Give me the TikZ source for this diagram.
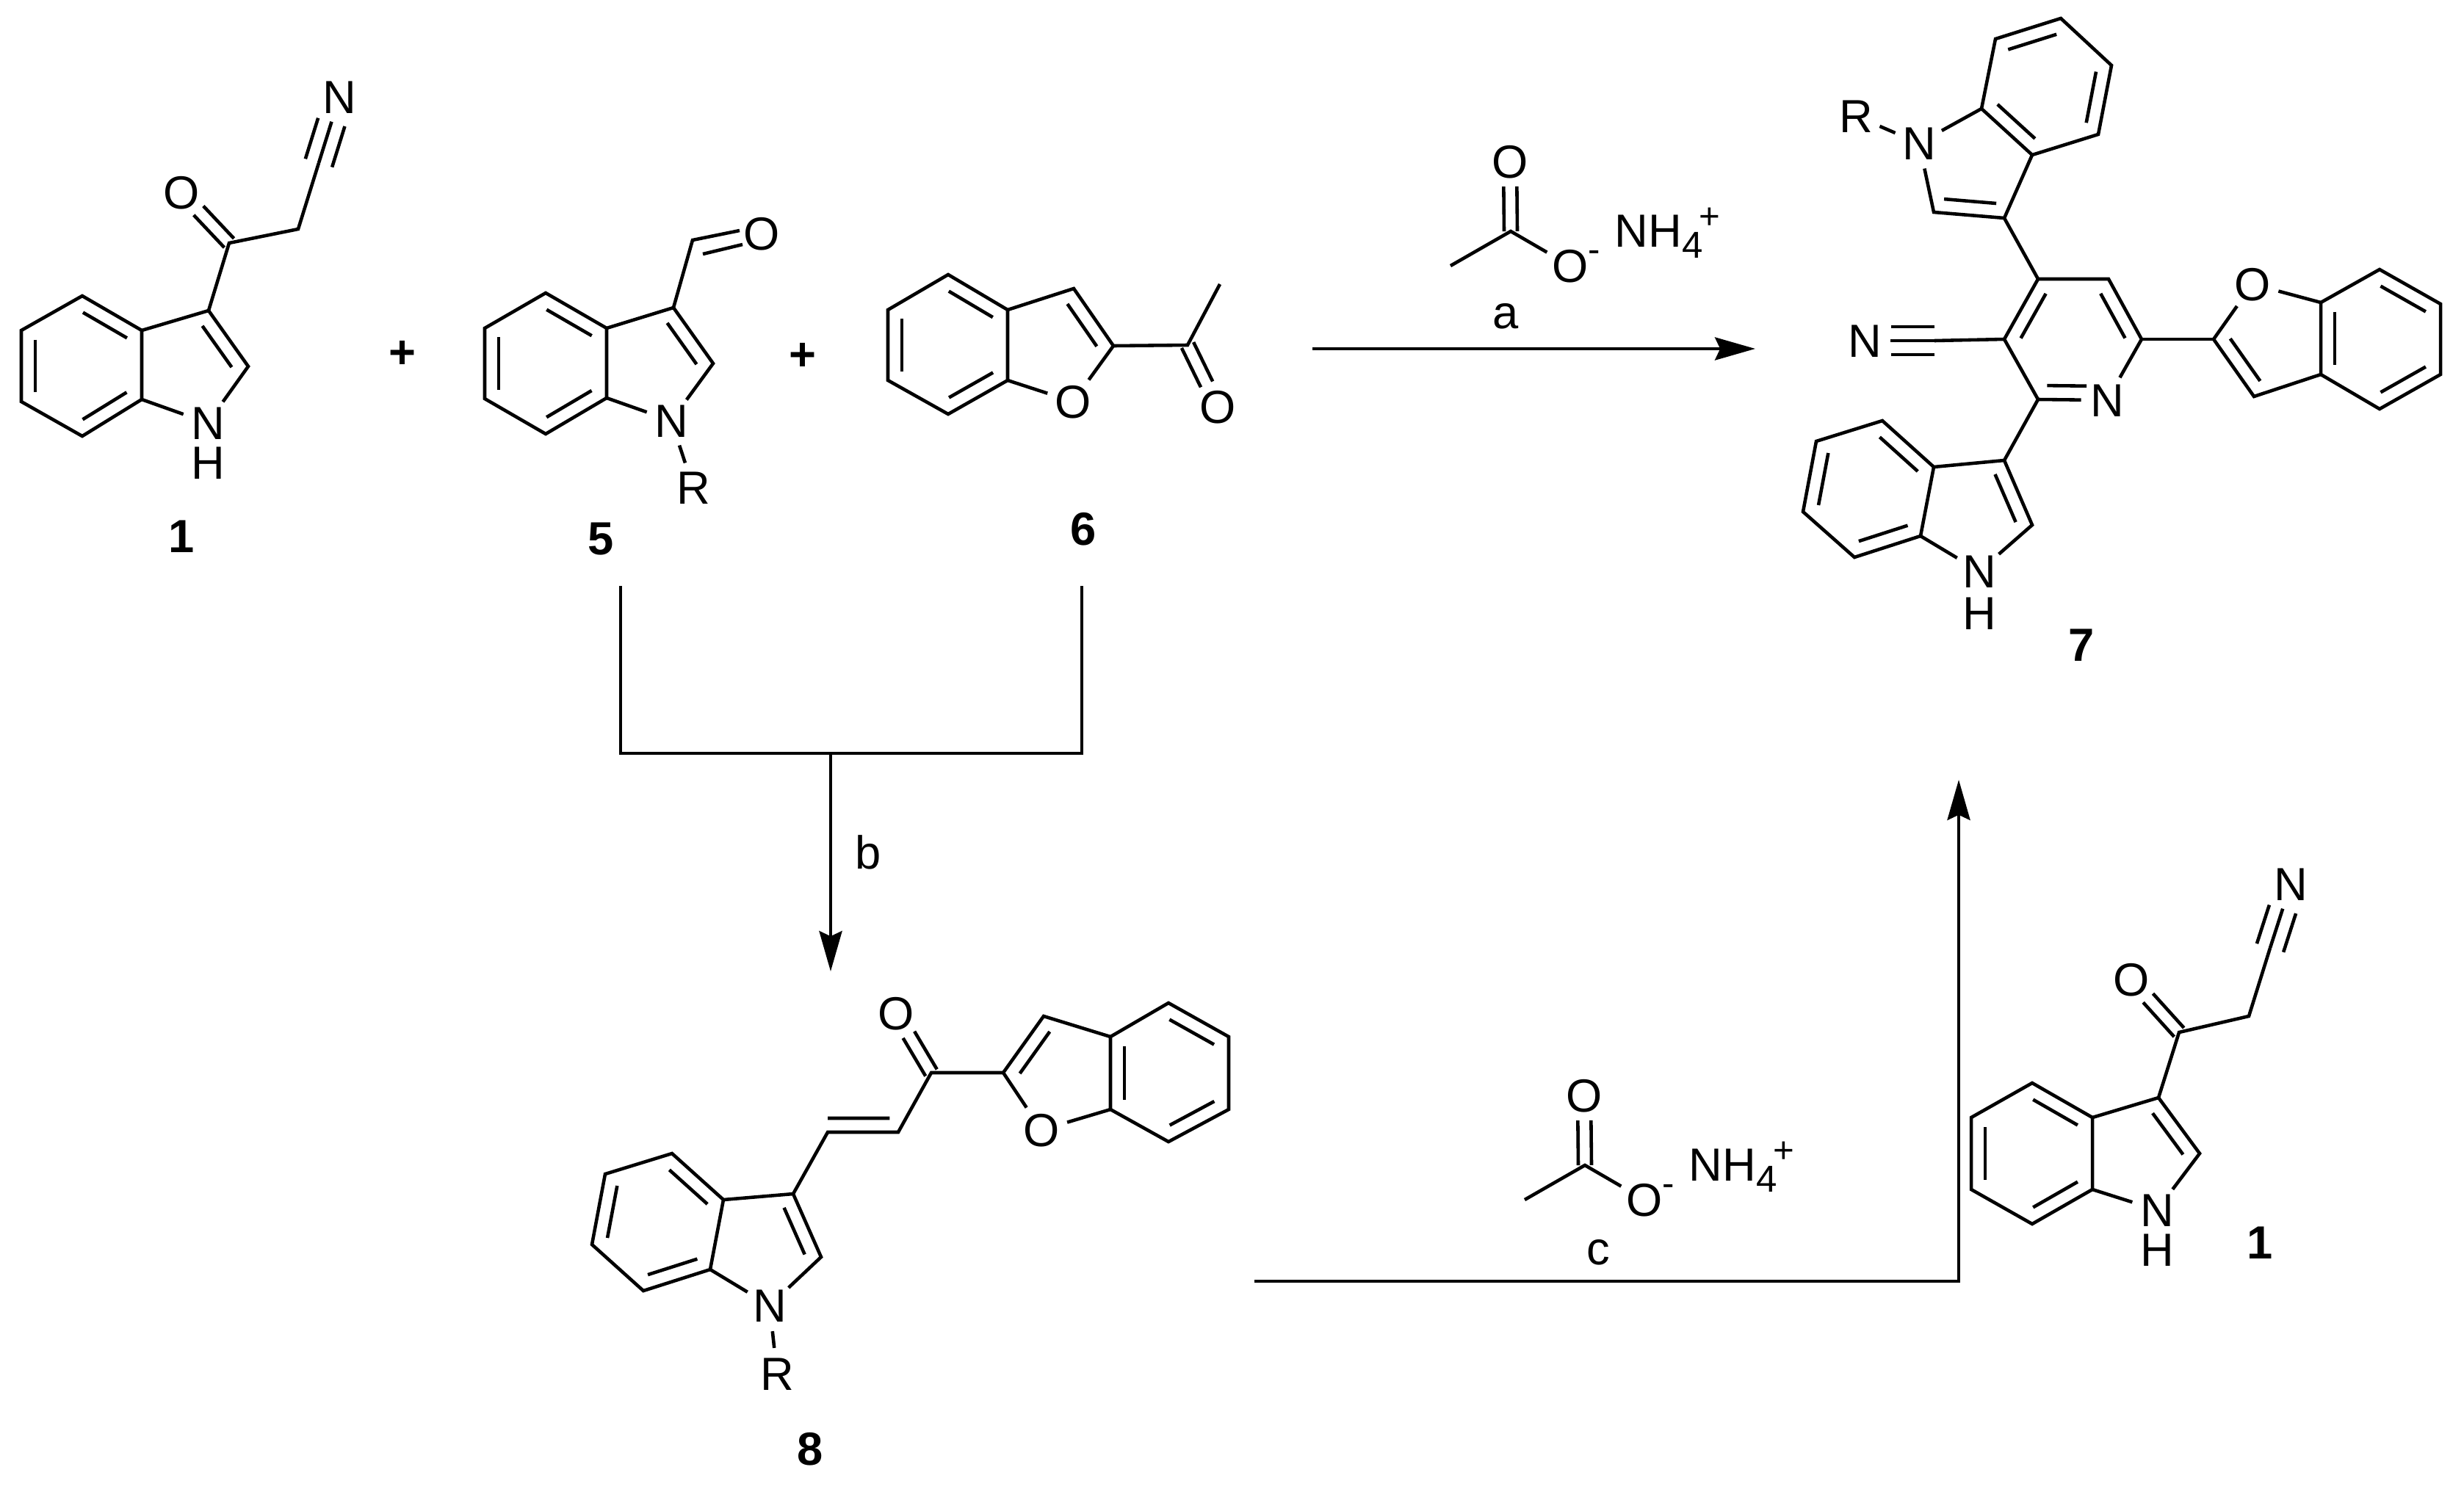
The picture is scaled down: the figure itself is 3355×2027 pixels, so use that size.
\documentclass[tikz,border=0pt]{standalone}
\usepackage{fontspec}
\setmainfont{Liberation Sans}
\usetikzlibrary{calc,arrows.meta}
\tikzset{
  x=0.01cm,y=-0.01cm,
  bond/.style={draw=black,line width=1.3pt},
  atom/.style={shape=circle,inner sep=0.5pt,font=\fontsize{18}{20}\selectfont,text height=12.9pt,text depth=0pt,text=black},
  num/.style={inner sep=0pt,font=\fontsize{18}{20}\selectfont\bfseries,text height=12.9pt,text depth=0pt,text=black},
  reagentlabel/.style={inner sep=0pt,anchor=base,font=\fontsize{18}{20}\selectfont,text=black},
  flow/.style={draw=black,line width=1.35pt},
  flowarrow/.style={flow,-{Stealth[length=15.6pt,width=8.8pt,inset=2pt]}},
}
% inner line of a double bond, on the left of a->b as seen on the page
\newcommand{\innerbondx}[4]{\draw[bond] ($(#3)!#1!(#4)!.19cm!90:(#4)$) -- ($(#4)!#2!(#3)!-.19cm!90:(#3)$);}
\newcommand{\innerbond}[2]{\innerbondx{.13}{.13}{#1}{#2}}
% carbonyl: two lines either side of the C-O axis
\newcommand{\carbonyl}[2]{\draw[bond,shorten >=.34cm] ($(#1)!.09cm!90:(#2)$) -- ($(#2)!.09cm!-90:(#1)$);
  \draw[bond,shorten >=.34cm] ($(#1)!.09cm!-90:(#2)$) -- ($(#2)!.09cm!90:(#1)$);}
% nitrile: carbon #1, nitrogen node #2
\newcommand{\nitrile}[2]{\draw[bond] (#1) -- (#2);
  \draw[bond,shorten >=.36cm] ($(#1)!.19cm!90:(#2)$) -- ($(#2)!.19cm!-90:(#1)$);
  \draw[bond,shorten >=.36cm] ($(#1)!.19cm!-90:(#2)$) -- ($(#2)!.19cm!90:(#1)$);}
% ammonium acetate reagent, drawn at its position above arrow a and shifted for c
\newcommand{\acetate}[3]{\begin{scope}[shift={(#2,#3)}]
  \coordinate (#1me) at (1975,362);
  \coordinate (#1c) at (2057,315);
  \node[atom] (#1o) at (2056,220) {O};
  \node[atom] (#1om) at (2138,362) {O};
  \node[inner sep=0pt,font=\fontsize{14}{16}\selectfont] (#1minus) at (2171,349) {-};
  \node[inner sep=0pt,anchor=base west,font=\fontsize{18}{20}\selectfont] (#1nh) at (2198,336)
    {NH{\fontsize{14.5}{16}\selectfont\raisebox{-4.5pt}{4}}\hspace{-1.5pt}{\fontsize{14}{16}\selectfont\raisebox{7pt}{+}}};
  \draw[bond] (#1me) -- (#1c) -- (#1om);
  \carbonyl{#1c}{#1o}
\end{scope}}
\begin{document}
\begin{tikzpicture}
\useasboundingbox (0,0) rectangle (3355,2027);

% ---------- compound 1 (left)
\coordinate (a1) at (112,403); \coordinate (a2) at (193,450); \coordinate (a3) at (193,544);
\coordinate (a4) at (112,594); \coordinate (a5) at (29,547); \coordinate (a6) at (29,450);
\coordinate (a7) at (284,423); \coordinate (a8) at (338,499);
\coordinate (a9) at (312,331); \coordinate (a10) at (406,312); \coordinate (a11) at (434,222);
\node[atom] (aN) at (283,576) {N};
\node[atom] (aH) at (283,630) {H};
\node[atom] (aO) at (247,262) {O};
\node[atom] (aCN) at (462,132) {N};
\node[num] (lab1) at (247,730) {1};
\draw[bond] (a1) -- (a2) -- (a3) -- (a4) -- (a5) -- (a6) -- cycle;
\draw[bond] (a3) -- (aN) -- (a8) -- (a7) -- (a2);
\draw[bond] (a7) -- (a9) -- (a10) -- (a11);
\nitrile{a11}{aCN}
\carbonyl{a9}{aO}
\innerbond{a2}{a1} \innerbond{a6}{a5} \innerbond{a4}{a3} \innerbondx{.13}{.13}{a8}{a7}

\node[num] (plus1) at (548,479) {+};

% ---------- compound 5
\coordinate (b1) at (743,399); \coordinate (b2) at (826,447); \coordinate (b3) at (826,542);
\coordinate (b4) at (743,591); \coordinate (b5) at (660,543); \coordinate (b6) at (660,447);
\coordinate (b7) at (917,419); \coordinate (b8) at (971,495);
\coordinate (b9) at (943,327); \coordinate (b10) at (1007,314);
\coordinate (b11) at (957,346); \coordinate (b12) at (1011,333);
\node[atom] (bN) at (914,573) {N};
\node[atom] (bR) at (944,664) {R};
\node[atom] (bO) at (1037,318) {O};
\node[num] (lab5) at (818,733) {5};
\draw[bond] (b1) -- (b2) -- (b3) -- (b4) -- (b5) -- (b6) -- cycle;
\draw[bond] (b3) -- (bN) -- (b8) -- (b7) -- (b2);
\draw[bond] (bN) -- (bR);
\draw[bond] (b7) -- (b9) -- (b10);
\draw[bond] (b11) -- (b12);
\innerbond{b2}{b1} \innerbond{b6}{b5} \innerbond{b4}{b3} \innerbond{b8}{b7}

\node[num] (plus2) at (1093,482) {+};

% ---------- compound 6
\coordinate (c1) at (1291,374); \coordinate (c2) at (1372,422); \coordinate (c3) at (1372,518);
\coordinate (c4) at (1291,564); \coordinate (c5) at (1209,518); \coordinate (c6) at (1209,422);
\coordinate (c7) at (1462,393); \coordinate (c8) at (1516,471);
\coordinate (c9) at (1617,470); \coordinate (c10) at (1661,387);
\node[atom] (cO) at (1461,547) {O};
\node[atom] (cO2) at (1658,554) {O};
\node[num] (lab6) at (1475,720) {6};
\draw[bond] (c1) -- (c2) -- (c3) -- (c4) -- (c5) -- (c6) -- cycle;
\draw[bond] (c3) -- (cO) -- (c8) -- (c7) -- (c2);
\draw[bond] (c8) -- (c9) -- (c10);
\carbonyl{c9}{cO2}
\innerbond{c2}{c1} \innerbond{c6}{c5} \innerbond{c4}{c3} \innerbond{c8}{c7}

% ---------- reaction a
\acetate{ra}{0}{0}
\node[reagentlabel] (laba) at (2050,447) {a};
\coordinate (arA) at (1787,475); \coordinate (arB) at (2390,475);
\draw[flowarrow] (arA) -- (arB);

% ---------- compound 7
\coordinate (p4) at (2775,380); \coordinate (p5) at (2871,380); \coordinate (p6) at (2916,462);
\coordinate (p2) at (2775,544); \coordinate (p3) at (2729,462);
\node[atom] (pN) at (2869,545) {N};
\node[atom] (pCN) at (2539,464) {N};
\coordinate (pC) at (2634,464);
\draw[bond] (p4) -- (p5) -- (p6) -- (pN) -- (p2) -- (p3) -- (p4);
\draw[bond] (p3) -- (pC);
\nitrile{pC}{pCN}
\innerbond{p4}{p3} \innerbond{p6}{p5} \innerbondx{.13}{.3}{p2}{pN}
% top indole
\coordinate (i3) at (2729,297); \coordinate (i3a) at (2767,211); \coordinate (i7a) at (2698,148);
\coordinate (i2) at (2633,289); \coordinate (i4) at (2857,183); \coordinate (i5) at (2875,89);
\coordinate (i6) at (2806,25); \coordinate (i7) at (2717,53);
\node[atom] (iN) at (2613,195) {N};
\node[atom] (iR) at (2527,158) {R};
\draw[bond] (i7a) -- (i7) -- (i6) -- (i5) -- (i4) -- (i3a) -- cycle;
\draw[bond] (i3a) -- (i3) -- (i2) -- (iN) -- (i7a);
\draw[bond] (iN) -- (iR);
\draw[bond] (i3) -- (p4);
\innerbond{i7a}{i3a} \innerbond{i4}{i5} \innerbond{i6}{i7} \innerbond{i2}{i3}
% benzofuran
\coordinate (f2) at (3014,462); \coordinate (f3) at (3069,540); \coordinate (f3a) at (3160,510);
\coordinate (f7a) at (3160,412); \coordinate (f7) at (3240,367); \coordinate (f6) at (3323,414);
\coordinate (f5) at (3323,510); \coordinate (f4) at (3240,557);
\node[atom] (fO) at (3067,387) {O};
\draw[bond] (f7a) -- (f7) -- (f6) -- (f5) -- (f4) -- (f3a) -- cycle;
\draw[bond] (f3a) -- (f3) -- (f2) -- (fO) -- (f7a);
\draw[bond] (p6) -- (f2);
\innerbond{f6}{f7} \innerbond{f4}{f5} \innerbond{f7a}{f3a} \innerbond{f2}{f3}
% lower indole
\coordinate (j3) at (2729,627); \coordinate (j3a) at (2633,636); \coordinate (j7a) at (2615,730);
\coordinate (j2) at (2767,715); \coordinate (j4) at (2563,573); \coordinate (j5) at (2473,601);
\coordinate (j6) at (2455,697); \coordinate (j7) at (2525,759);
\node[atom] (jN) at (2695,778) {N};
\node[atom] (jH) at (2695,835) {H};
\draw[bond] (j3a) -- (j7a) -- (j7) -- (j6) -- (j5) -- (j4) -- cycle;
\draw[bond] (j3a) -- (j3) -- (j2) -- (jN) -- (j7a);
\draw[bond] (p2) -- (j3);
\innerbond{j3a}{j4} \innerbond{j5}{j6} \innerbond{j7}{j7a} \innerbond{j2}{j3}
\node[num] (lab7) at (2834,878) {7};

% ---------- fork and arrow b
\coordinate (s5) at (845,798); \coordinate (s6) at (1473,798);
\coordinate (sL) at (845,1026); \coordinate (sR) at (1473,1026);
\coordinate (sM) at (1131,1026); \coordinate (sE) at (1131,1323);
\draw[flow] (s5) -- (sL) -- (sR) -- (s6);
\draw[flowarrow] (sM) -- (sE);
\node[reagentlabel] (labb) at (1182,1183) {b};

% ---------- compound 8
\coordinate (k4) at (915,1571); \coordinate (k3a) at (985,1634); \coordinate (k7a) at (967,1729);
\coordinate (k7) at (876,1758); \coordinate (k6) at (806,1695); \coordinate (k5) at (824,1599);
\coordinate (k3) at (1080,1626); \coordinate (k2) at (1118,1712);
\coordinate (kA) at (1127,1542); \coordinate (kB) at (1223,1542); \coordinate (kC) at (1268,1461);
\coordinate (m2) at (1366,1461); \coordinate (m3) at (1421,1384); \coordinate (m3a) at (1512,1412);
\coordinate (m7a) at (1512,1511); \coordinate (m4) at (1591,1366); \coordinate (m5) at (1673,1412);
\coordinate (m6) at (1673,1511); \coordinate (m7) at (1591,1555);
\node[atom] (kN) at (1048,1778) {N};
\node[atom] (kR) at (1058,1871) {R};
\node[atom] (kO) at (1220,1380) {O};
\node[atom] (mO) at (1418,1539) {O};
\node[num] (lab8) at (1103,1973) {8};
\draw[bond] (k3a) -- (k7a) -- (k7) -- (k6) -- (k5) -- (k4) -- cycle;
\draw[bond] (k3a) -- (k3) -- (k2) -- (kN) -- (k7a);
\draw[bond] (kN) -- (kR);
\draw[bond] (k3) -- (kA) -- (kB) -- (kC) -- (m2);
\carbonyl{kC}{kO}
\draw[bond] (m3a) -- (m4) -- (m5) -- (m6) -- (m7) -- (m7a) -- cycle;
\draw[bond] (m3a) -- (m3) -- (m2) -- (mO) -- (m7a);
\innerbond{k3a}{k4} \innerbond{k5}{k6} \innerbond{k7}{k7a} \innerbond{k2}{k3}
\innerbondx{0}{.12}{kA}{kB}
\innerbond{m3}{m2} \innerbond{m3a}{m7a} \innerbond{m5}{m4} \innerbond{m7}{m6}

% ---------- reaction c
\acetate{rc}{101}{1272}
\node[reagentlabel] (labc) at (2176,1722) {c};
\coordinate (cA) at (1708,1745); \coordinate (cB) at (2667,1745); \coordinate (cC) at (2667,1062);
\draw[flowarrow] (cA) -- (cB) -- (cC);

% ---------- compound 1 (right)
\coordinate (e1) at (2767,1475); \coordinate (e2) at (2849,1522); \coordinate (e3) at (2849,1620);
\coordinate (e4) at (2767,1667); \coordinate (e5) at (2684,1620); \coordinate (e6) at (2684,1522);
\coordinate (e7) at (2939,1495); \coordinate (e8) at (2995,1571);
\coordinate (e9) at (2967,1406); \coordinate (e10) at (3062,1384); \coordinate (e11) at (3091,1291);
\node[atom] (eN) at (2937,1648) {N};
\node[atom] (eH) at (2937,1702) {H};
\node[atom] (eO) at (2902,1334) {O};
\node[atom] (eCN) at (3119,1204) {N};
\node[num] (lab1b) at (3077,1692) {1};
\draw[bond] (e1) -- (e2) -- (e3) -- (e4) -- (e5) -- (e6) -- cycle;
\draw[bond] (e3) -- (eN) -- (e8) -- (e7) -- (e2);
\draw[bond] (e7) -- (e9) -- (e10) -- (e11);
\nitrile{e11}{eCN}
\carbonyl{e9}{eO}
\innerbond{e2}{e1} \innerbond{e6}{e5} \innerbond{e4}{e3} \innerbond{e8}{e7}
\end{tikzpicture}
\end{document}
